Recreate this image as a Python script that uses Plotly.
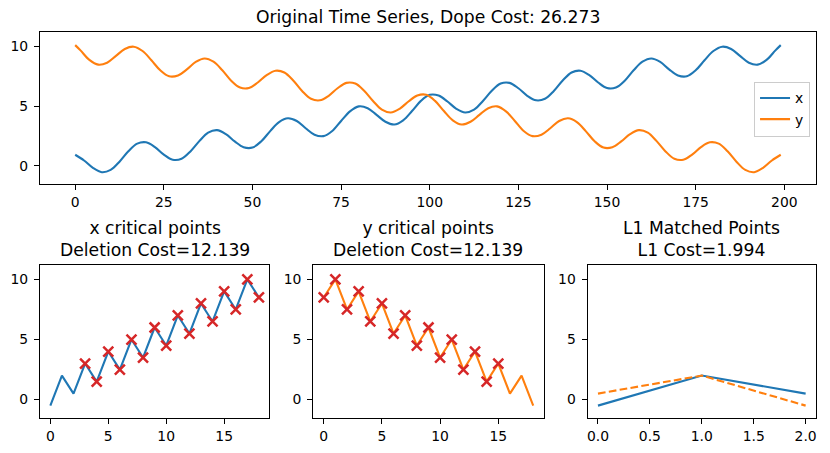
import plotly.graph_objects as go

t_x = [2.5 * i for i in range(80)] + [199]
x_vals = [0.92, 0.44, -0.18, -0.54, -0.35, 0.34, 1.21, 1.85, 1.96, 1.56,
          0.93, 0.50, 0.58, 1.20, 2.06, 2.77, 2.98, 2.65, 2.04, 1.55,
          1.52, 2.05, 2.90, 3.66, 3.98, 3.75, 3.14, 2.60, 2.48, 2.91,
          3.75, 4.55, 4.97, 4.82, 4.26, 3.68, 3.45, 3.80, 4.58, 5.43,
          5.94, 5.88, 5.38, 4.77, 4.46, 4.70, 5.42, 6.28, 6.88, 6.94,
          6.49, 5.86, 5.48, 5.61, 6.26, 7.14, 7.81, 7.96, 7.59, 6.97,
          6.51, 6.55, 7.12, 7.99, 8.71, 8.98, 8.69, 8.07, 7.56, 7.49,
          7.99, 8.83, 9.61, 9.97, 9.78, 9.20, 8.63, 8.47, 8.86, 9.66,
          10.1]

t_y = [0] + [1.5 + 2.5 * i for i in range(79)] + [199]
y_vals = [10.1, 9.66, 8.86, 8.47, 8.63, 9.20, 9.78, 9.97, 9.61, 8.83,
          7.99, 7.49, 7.56, 8.07, 8.69, 8.98, 8.71, 7.99, 7.12, 6.55,
          6.51, 6.97, 7.59, 7.96, 7.81, 7.14, 6.26, 5.61, 5.48, 5.86,
          6.49, 6.94, 6.88, 6.28, 5.42, 4.70, 4.46, 4.77, 5.38, 5.88,
          5.94, 5.43, 4.58, 3.80, 3.45, 3.68, 4.26, 4.82, 4.97, 4.55,
          3.75, 2.91, 2.48, 2.60, 3.14, 3.75, 3.98, 3.66, 2.90, 2.05,
          1.52, 1.55, 2.04, 2.65, 2.98, 2.77, 2.06, 1.20, 0.58, 0.50,
          0.93, 1.56, 1.96, 1.85, 1.21, 0.34, -0.35, -0.54, -0.18, 0.44,
          0.92]

# critical points
crit_x = [-0.5, 2, 0.5, 3, 1.5, 4, 2.5, 5, 3.5, 6, 4.5, 7, 5.5, 8, 6.5, 9, 7.5, 10, 8.5]
crit_y = [8.5, 10, 7.5, 9, 6.5, 8, 5.5, 7, 4.5, 6, 3.5, 5, 2.5, 4, 1.5, 3, 0.5, 2, -0.5]
x_marked = list(range(3, 19))
y_marked = list(range(0, 16))

# L1 matched points
matched_x = [-0.5, 2, 0.5]
matched_y = [0.5, 2, -0.5]

top_title = "Original Time Series, Dope Cost: 26.273"
sub_titles = ["x critical points<br>Deletion Cost=12.139",
              "y critical points<br>Deletion Cost=12.139",
              "L1 Matched Points<br>L1 Cost=1.994"]

BLUE = "#1f77b4"
ORANGE = "#ff7f0e"
RED = "#d62728"
W, H = 830, 453
FONT = "DejaVu Sans"

fig = go.Figure()

fig.add_trace(go.Scatter(x=t_x, y=x_vals, mode="lines", name="x",
                         line=dict(color=BLUE, width=2.1, shape="spline"),
                         xaxis="x", yaxis="y"))
fig.add_trace(go.Scatter(x=t_y, y=y_vals, mode="lines", name="y",
                         line=dict(color=ORANGE, width=2.1, shape="spline"),
                         xaxis="x", yaxis="y"))

# x critical points
fig.add_trace(go.Scatter(x=list(range(len(crit_x))), y=crit_x, mode="lines",
                         line=dict(color=BLUE, width=2.1), showlegend=False,
                         xaxis="x2", yaxis="y2"))
fig.add_trace(go.Scatter(x=x_marked, y=[crit_x[i] for i in x_marked], mode="markers",
                         marker=dict(symbol="x-thin", size=10, line=dict(color=RED, width=2.5)),
                         showlegend=False, xaxis="x2", yaxis="y2"))

# y critical points
fig.add_trace(go.Scatter(x=list(range(len(crit_y))), y=crit_y, mode="lines",
                         line=dict(color=ORANGE, width=2.1), showlegend=False,
                         xaxis="x3", yaxis="y3"))
fig.add_trace(go.Scatter(x=y_marked, y=[crit_y[i] for i in y_marked], mode="markers",
                         marker=dict(symbol="x-thin", size=10, line=dict(color=RED, width=2.5)),
                         showlegend=False, xaxis="x3", yaxis="y3"))

# matched
fig.add_trace(go.Scatter(x=list(range(len(matched_x))), y=matched_x, mode="lines",
                         line=dict(color=BLUE, width=2.1), showlegend=False,
                         xaxis="x4", yaxis="y4"))
fig.add_trace(go.Scatter(x=list(range(len(matched_y))), y=matched_y, mode="lines",
                         line=dict(color=ORANGE, width=2.1, dash="7.7px,3.3px"),
                         showlegend=False, xaxis="x4", yaxis="y4"))


def px_x(p):
    return p / W


def px_y(p):
    return 1 - p / H


axis_style = dict(showline=True, linecolor="black", linewidth=1, mirror=True,
                  ticks="outside", ticklen=5, tickwidth=1, tickcolor="black",
                  showgrid=False, zeroline=False,
                  tickfont=dict(family=FONT, size=13.9, color="black"))
yaxis_style = dict(axis_style, ticklabelstandoff=3)

top_dom = [px_y(184), px_y(32)]
bot_dom = [px_y(418), px_y(265)]
panels = [(39, 269), (313, 544), (588, 817)]
yrange = [-1.53, 11.2]

fig.update_layout(
    width=W, height=H,
    margin=dict(l=0, r=0, t=0, b=0),
    paper_bgcolor="white", plot_bgcolor="white",
    font=dict(family=FONT, color="black"),
    xaxis=dict(domain=[px_x(39), px_x(817)], range=[-9.95, 208.95],
               tickvals=[0, 25, 50, 75, 100, 125, 150, 175, 200], anchor="y", **axis_style),
    yaxis=dict(domain=top_dom, range=yrange, tickvals=[0, 5, 10], anchor="x", **yaxis_style),
    xaxis2=dict(domain=[px_x(panels[0][0]), px_x(panels[0][1])], range=[-0.9, 18.9],
                tickvals=[0, 5, 10, 15], anchor="y2", **axis_style),
    yaxis2=dict(domain=bot_dom, range=yrange, tickvals=[0, 5, 10], anchor="x2", **yaxis_style),
    xaxis3=dict(domain=[px_x(panels[1][0]), px_x(panels[1][1])], range=[-0.9, 18.9],
                tickvals=[0, 5, 10, 15], anchor="y3", **axis_style),
    yaxis3=dict(domain=bot_dom, range=yrange, tickvals=[0, 5, 10], anchor="x3", **yaxis_style),
    xaxis4=dict(domain=[px_x(panels[2][0]), px_x(panels[2][1])], range=[-0.1, 2.1],
                tickvals=[0, 0.5, 1, 1.5, 2], tickformat=".1f", anchor="y4", **axis_style),
    yaxis4=dict(domain=bot_dom, range=yrange, tickvals=[0, 5, 10], anchor="x4", **yaxis_style),
    legend=dict(x=px_x(811), y=px_y(109), xanchor="right", yanchor="middle",
                bgcolor="rgba(255,255,255,0.8)", bordercolor="#cccccc", borderwidth=1,
                itemwidth=30,
                font=dict(family=FONT, size=13.9, color="black")),
)

fig.add_annotation(text=top_title, x=px_x(428), y=px_y(29), xref="paper", yref="paper",
                   xanchor="center", yanchor="bottom", showarrow=False,
                   font=dict(family=FONT, size=17.2, color="black"))
for (l, r), txt in zip(panels, sub_titles):
    fig.add_annotation(text=txt, x=px_x((l + r) / 2), y=px_y(262), xref="paper", yref="paper",
                       xanchor="center", yanchor="bottom", showarrow=False,
                       font=dict(family=FONT, size=17.2, color="black"))

# the page body has a default 8px margin; drop it so the figure sits at 0,0
fig.write_html("out.html", config={"displayModeBar": False},
               post_script="document.body.style.margin='0';")
